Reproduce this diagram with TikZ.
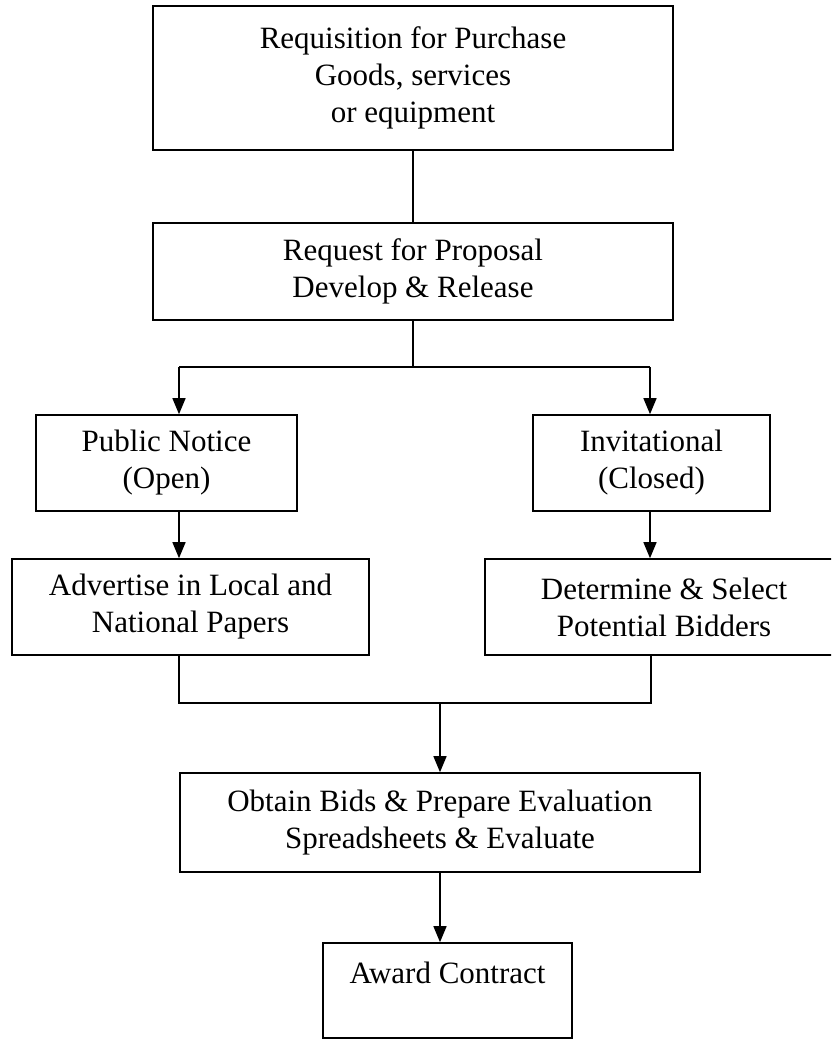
\documentclass[tikz,border=0pt]{standalone}
\usepackage{fontspec}
\setmainfont{Liberation Serif}
\usetikzlibrary{arrows.meta}
\begin{document}
\begin{tikzpicture}[x=1pt,y=-1pt,
  box/.style={draw, line width=1.6pt, align=center, inner sep=0pt,
    font=\fontsize{31}{37}\selectfont},
  conn/.style={line width=1.4pt},
  arr/.style={line width=1.4pt, -{Triangle[length=16pt,width=13pt]}}]
\useasboundingbox (0,0) rectangle (831,1041);
\clip (0,0) rectangle (831,1041);
\node[box, minimum width=520pt, minimum height=144pt] (req) at (413,78)
  {Requisition for Purchase\\Goods, services\\or equipment};
\node[box, minimum width=520pt, minimum height=97pt] (rfp) at (413,271.5)
  {Request for Proposal\\Develop \& Release};
\node[box, minimum width=261pt, minimum height=96pt] (pub) at (166.5,463)
  {Public Notice\\(Open)};
\node[box, minimum width=237pt, minimum height=96pt] (inv) at (651.5,463)
  {Invitational\\(Closed)};
\node[box, minimum width=357pt, minimum height=96pt] (adv) at (190.5,607)
  {Advertise in Local and\\National Papers};
\node[box, minimum width=358pt, minimum height=96pt] (det) at (664,607)
  {Determine \& Select\\Potential Bidders};
\node[box, minimum width=520pt, minimum height=99pt] (obt) at (440,822.5)
  {Obtain Bids \& Prepare Evaluation\\Spreadsheets \& Evaluate};
\node[box, minimum width=249pt, minimum height=95pt] (award) at (447.5,990.5)
  {Award Contract\\[-12pt]\strut};
\coordinate (sl) at (179,367);
\coordinate (sr) at (650,367);
\coordinate (jl) at (179,703);
\coordinate (jr) at (651,703);
\draw[conn] (req.south) -- (rfp.north);
\draw[conn] (rfp.south) -- (rfp.south |- sl);
\draw[conn] (sl) -- (sr);
\draw[arr] (sl) -- (sl |- pub.north);
\draw[arr] (sr) -- (sr |- inv.north);
\draw[arr] (sl |- pub.south) -- (sl |- adv.north);
\draw[arr] (sr |- inv.south) -- (sr |- det.north);
\draw[conn] (jl |- adv.south) -- (jl) -- (jr) -- (jr |- det.south);
\draw[arr] (obt.north |- jl) -- (obt.north);
\draw[arr] (obt.south) -- (obt.south |- award.north);
\end{tikzpicture}
\end{document}
